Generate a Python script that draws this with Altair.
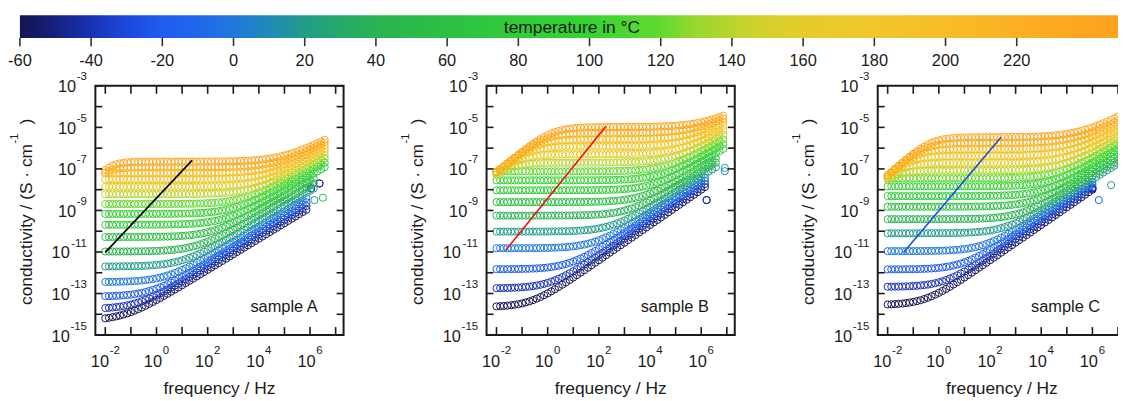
import altair as alt
import numpy as np
import pandas as pd

# ---------------- data ----------------
TEMPS = [-60, -40, -20, 0, 20, 40, 60, 80, 100, 120, 140, 160, 180, 200, 220, 240]
PTS_PER_DECADE = 7
LOGF_START = -2.0

# panel A: log10 dc level, log10 value at 1 MHz, dispersion exponent, number of points
DC_A = [-14.30, -13.75, -13.15, -12.45, -11.70, -10.98, -10.28, -9.69, -9.17, -8.69, -8.22, -7.86, -7.50, -7.20, -6.93, -6.65]
HF_A = [-8.86, -8.68, -8.50, -8.30, -8.05, -7.80, -7.55, -7.32, -7.10, -6.90, -6.72, -6.55, -6.38, -6.22, -6.07, -5.92]
N_A = [0.75, 0.75, 0.75, 0.74, 0.73, 0.72, 0.72, 0.71, 0.70, 0.70, 0.69, 0.68, 0.68, 0.67, 0.66, 0.65]
NPTS_A = [56, 56, 56, 56, 58, 58, 58, 61, 61, 61, 61, 61, 61, 61, 61, 61]
EP_A = [-6.83, 1.5, 220]          # electrode line: log10 at 10 mHz, slope, from temperature
ART_A_T = [-60, -40, -60, -40, 20, 40]
ART_A_F = [6.04, 6.04, 6.37, 6.37, 6.17, 6.50]
ART_A_S = [-7.94, -7.94, -7.70, -7.70, -8.50, -8.39]
LINE_A_F = [-2.0, 1.39]
LINE_A_S = [-11.02, -6.59]

DC_B = [-13.65, -12.75, -11.83, -10.82, -10.02, -9.25, -8.60, -8.03, -7.55, -7.12, -6.70, -6.30, -5.92, -5.58, -5.27, -4.98]
HF_B = [-8.00, -7.85, -7.70, -7.55, -7.35, -7.12, -6.90, -6.65, -6.40, -6.15, -5.90, -5.65, -5.40, -5.17, -4.95, -4.75]
N_B = [0.85, 0.83, 0.80, 0.78, 0.76, 0.75, 0.74, 0.73, 0.72, 0.71, 0.70, 0.69, 0.68, 0.67, 0.66, 0.65]
NPTS_B = [58, 58, 58, 58, 61, 61, 61, 63, 63, 63, 63, 63, 63, 63, 63, 63]
EP_B = [-7.15, 1.0, 140]
ART_B_T = [-60, -40, 0, 20]
ART_B_F = [6.21, 6.21, 6.92, 6.92]
ART_B_S = [-8.50, -8.50, -7.11, -6.95]
LINE_B_F = [-1.64, 2.27]
LINE_B_S = [-10.92, -4.96]

DC_C = [-13.55, -12.68, -11.84, -10.96, -10.10, -9.42, -8.82, -8.31, -7.84, -7.45, -7.08, -6.72, -6.38, -6.05, -5.75, -5.47]
HF_C = [-8.00, -7.88, -7.76, -7.64, -7.50, -7.32, -7.12, -6.92, -6.70, -6.45, -6.20, -5.95, -5.70, -5.45, -5.22, -5.00]
N_C = [0.85, 0.83, 0.80, 0.78, 0.76, 0.75, 0.74, 0.73, 0.72, 0.71, 0.70, 0.69, 0.68, 0.67, 0.66, 0.65]
NPTS_C = [57, 57, 57, 57, 64, 64, 64, 64, 64, 64, 64, 64, 64, 64, 64, 64]
EP_C = [-7.30, 1.1, 140]
ART_C_T = [-60, -40, -20, 20]
ART_C_F = [6.00, 6.00, 6.25, 6.73]
ART_C_S = [-7.94, -7.94, -8.50, -7.78]
LINE_C_F = [-1.38, 2.43]
LINE_C_S = [-11.02, -5.47]

SAMPLES = ["sample A", "sample B", "sample C"]
X_TICK_EXP = list(range(-2, 8))
Y_TICK_EXP = list(range(-15, -2))
X_LABEL_EXP = [-2, 0, 2, 4, 6]
Y_LABEL_EXP = [-15, -13, -11, -9, -7, -5, -3]

CB_DOMAIN = [-60, 250]
CB_TICKS = list(range(-60, 221, 20))
T_STOPS = [-60, -50, -40, -30, -20, -10, 0, 10, 20, 30, 40, 60, 80, 100, 120, 130, 140, 150, 160, 180, 200, 220, 250]
C_STOPS = ["#151552", "#16207f", "#1932b5", "#1c48dc", "#1f5cf2", "#1f68ea", "#2078dc", "#208ab8",
           "#229c8a", "#25a86a", "#2ab352", "#2dc043", "#31cc38", "#36d332", "#62da30", "#98d82e",
           "#bad42d", "#d6d02b", "#e4cc2a", "#f2c628", "#f7bd25", "#fcb022", "#ffa01f"]

FONT = "Liberation Sans"
INK = "#1a1a1a"
FS_TITLE = 17.5
FS_LABEL = 16.5
FS_EXP = 11.5

# ---------------- build tables ----------------
def spectra(dc, hf, n, npts, ep, art_t, art_f, art_s):
    rows = []
    ep0, epm, ept = ep
    for T, d, h, nn, m in zip(TEMPS, dc, hf, n, npts):
        logfc = 6 - np.log10(10 ** (h - d) - 1) / nn
        for k in range(m):
            lf = LOGF_START + k / PTS_PER_DECADE
            s = 10 ** d * (1 + 10 ** (nn * (lf - logfc)))
            if T >= ept:
                sep = 10 ** (ep0 + epm * (lf - LOGF_START))
                s = 1 / (1 / s + 1 / sep)
            rows.append({"T": T, "f": 10 ** lf, "s": s})
    for T, lf, ls in zip(art_t, art_f, art_s):
        rows.append({"T": T, "f": 10 ** lf, "s": 10 ** ls})
    return pd.DataFrame(rows)


PANELS = [
    (spectra(DC_A, HF_A, N_A, NPTS_A, EP_A, ART_A_T, ART_A_F, ART_A_S), LINE_A_F, LINE_A_S, "black"),
    (spectra(DC_B, HF_B, N_B, NPTS_B, EP_B, ART_B_T, ART_B_F, ART_B_S), LINE_B_F, LINE_B_S, "#ee1111"),
    (spectra(DC_C, HF_C, N_C, NPTS_C, EP_C, ART_C_T, ART_C_F, ART_C_S), LINE_C_F, LINE_C_S, "#1550e6"),
]

# ---------------- layout (pixels, view coordinates) ----------------
PW, TOP, BOT = 250, 77, 328
OFFSETS = [88, 482, 876]
XDOM = [10 ** -2.388, 10 ** 7.31]
YDOM = [1e-15, 1e-3]

cscale = alt.Scale(domain=T_STOPS, range=C_STOPS, interpolate="rgb")
layers = []

# colour bar
cb_x0 = 12
cb_px = 3.5857
cbscale = alt.Scale(domain=CB_DOMAIN, range=[cb_x0, cb_x0 + (CB_DOMAIN[1] - CB_DOMAIN[0]) * cb_px],
                    nice=False, zero=False)
grad = alt.LinearGradient(
    gradient="linear",
    stops=[alt.GradientStop(color=c, offset=(t - CB_DOMAIN[0]) / (CB_DOMAIN[1] - CB_DOMAIN[0]))
           for t, c in zip(T_STOPS, C_STOPS)],
    x1=0, x2=1, y1=0, y2=0)
cb_df = pd.DataFrame({"t0": [CB_DOMAIN[0]], "t1": [CB_DOMAIN[1]]})
layers.append(alt.Chart(cb_df).mark_rect(fill=grad).encode(
    x=alt.X("t0:Q", scale=cbscale, axis=None), x2="t1:Q",
    y=alt.value(6), y2=alt.value(28.7)))
cbt = pd.DataFrame({"t": CB_TICKS, "lab": [str(t) for t in CB_TICKS]})
layers.append(alt.Chart(cbt).mark_rule(color="#333", strokeWidth=1.6).encode(
    x=alt.X("t:Q", scale=cbscale, axis=None), y=alt.value(28.7), y2=alt.value(37)))
layers.append(alt.Chart(cbt).mark_text(font=FONT, fontSize=FS_LABEL, color=INK, baseline="alphabetic").encode(
    x=alt.X("t:Q", scale=cbscale, axis=None), y=alt.value(57), text="lab:N"))
layers.append(alt.Chart(pd.DataFrame({"a": [0]})).mark_text(
    font=FONT, fontSize=FS_TITLE, color=INK, baseline="middle", text="temperature in °C").encode(
    x=alt.value(568), y=alt.value(18.5)))


def exp_label(e):
    return str(e)


for (df, lf, ls, lcol), ox, name in zip(PANELS, OFFSETS, SAMPLES):
    xs = alt.Scale(type="log", domain=XDOM, range=[ox, ox + PW], nice=False)
    ys = alt.Scale(type="log", domain=YDOM, range=[BOT, TOP], nice=False)
    X = lambda f: alt.X(f, scale=xs, axis=None)
    Y = lambda f: alt.Y(f, scale=ys, axis=None)

    layers.append(alt.Chart(df).mark_point(shape="circle", filled=False, size=52, strokeWidth=1, opacity=1).encode(
        x=X("f:Q"), y=Y("s:Q"),
        color=alt.Color("T:Q", scale=cscale, legend=None), order=alt.Order("T:Q")))

    ldf = pd.DataFrame({"f": [10 ** v for v in lf], "s": [10 ** v for v in ls]})
    layers.append(alt.Chart(ldf).mark_line(color=lcol, strokeWidth=1.6).encode(x=X("f:Q"), y=Y("s:Q")))

    # frame
    layers.append(alt.Chart(pd.DataFrame({"a": [0]})).mark_rect(
        fill="white", fillOpacity=0, stroke=INK, strokeWidth=2).encode(
        x=alt.value(ox), x2=alt.value(ox + PW), y=alt.value(TOP), y2=alt.value(BOT)))

    # inward ticks
    xt = pd.DataFrame({"v": [10.0 ** e for e in X_TICK_EXP]})
    yt = pd.DataFrame({"v": [10.0 ** e for e in Y_TICK_EXP]})
    for y0, y1 in [(TOP, TOP + 8), (BOT, BOT - 8)]:
        layers.append(alt.Chart(xt).mark_rule(color=INK, strokeWidth=1.6).encode(
            x=X("v:Q"), y=alt.value(y0), y2=alt.value(y1)))
    for x0, x1 in [(ox, ox + 7), (ox + PW - 7, ox + PW)]:
        layers.append(alt.Chart(yt).mark_rule(color=INK, strokeWidth=1.6).encode(
            y=Y("v:Q"), x=alt.value(x0), x2=alt.value(x1)))

    # x tick labels: "10" + superscript
    xl = pd.DataFrame({"v": [10.0 ** e for e in X_LABEL_EXP], "e": [exp_label(e) for e in X_LABEL_EXP],
                       "neg": [e < 0 for e in X_LABEL_EXP]})
    for neg, d10, dex in [(True, 3.75, 4.45), (False, 5.6, 6.3)]:
        sub = xl[xl["neg"] == neg]
        layers.append(alt.Chart(sub).mark_text(font=FONT, fontSize=FS_LABEL, color=INK, align="right",
                                               baseline="middle", dx=d10, text="10").encode(
            x=X("v:Q"), y=alt.value(355)))
        layers.append(alt.Chart(sub).mark_text(font=FONT, fontSize=FS_EXP, color=INK, align="left",
                                               baseline="middle", dx=dex).encode(
            x=X("v:Q"), y=alt.value(344.5), text="e:N"))

    # y tick labels
    yl = pd.DataFrame({"v": [10.0 ** e for e in Y_LABEL_EXP], "e": [exp_label(e) for e in Y_LABEL_EXP],
                       "two": [abs(e) >= 10 for e in Y_LABEL_EXP]})
    for two, off in [(False, 19.4), (True, 25.8)]:
        sub = yl[yl["two"] == two]
        layers.append(alt.Chart(sub).mark_text(font=FONT, fontSize=FS_LABEL, color=INK, align="right",
                                               baseline="middle", dy=1.5, text="10").encode(
            y=Y("v:Q"), x=alt.value(ox - off)))
        layers.append(alt.Chart(sub).mark_text(font=FONT, fontSize=FS_EXP, color=INK, align="right",
                                               baseline="middle", dy=-8.5).encode(
            y=Y("v:Q"), x=alt.value(ox - 8.5), text="e:N"))

    one = pd.DataFrame({"a": [0]})
    # y title
    layers.append(alt.Chart(one).mark_text(font=FONT, fontSize=FS_TITLE, color=INK, angle=270, align="right",
                                           baseline="alphabetic", text="conductivity / (S · cm").encode(
        x=alt.value(ox - 64), y=alt.value(135.5)))
    layers.append(alt.Chart(one).mark_text(font=FONT, fontSize=FS_EXP, color=INK, angle=270, align="left",
                                           baseline="alphabetic", text="-1").encode(
        x=alt.value(ox - 78), y=alt.value(135)))
    layers.append(alt.Chart(one).mark_text(font=FONT, fontSize=FS_TITLE, color=INK, angle=270, align="left",
                                           baseline="alphabetic", text=")").encode(
        x=alt.value(ox - 64), y=alt.value(116)))
    # x title
    layers.append(alt.Chart(one).mark_text(font=FONT, fontSize=FS_TITLE, color=INK, baseline="alphabetic",
                                           text="frequency / Hz").encode(
        x=alt.value(ox + PW / 2), y=alt.value(387)))
    # sample name
    layers.append(alt.Chart(one).mark_text(font=FONT, fontSize=FS_LABEL, color=INK, align="right",
                                           baseline="alphabetic", text=name).encode(
        x=alt.value(ox + 224), y=alt.value(305)))

chart = alt.layer(*layers).resolve_scale(x="independent", y="independent").properties(
    width=1118, height=390, autosize=alt.AutoSizeParams(type="none"), padding=0
).configure_view(strokeWidth=0)

chart.save("out.html", embed_options={"renderer": "svg", "actions": False})
